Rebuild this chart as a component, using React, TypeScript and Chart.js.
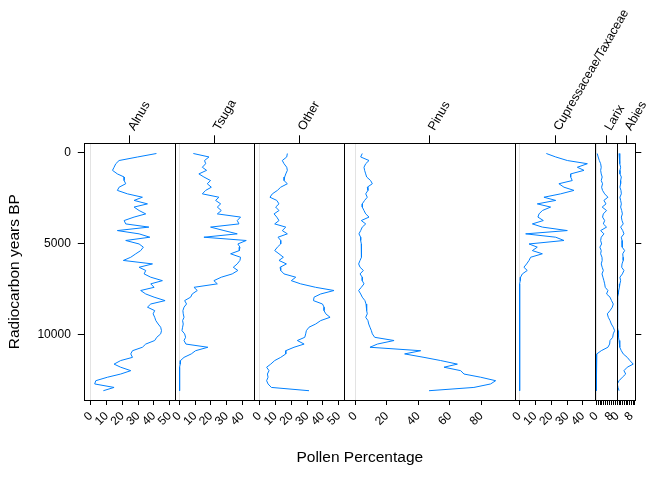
import { useEffect, useRef } from 'react';
import { Chart, registerables } from 'chart.js';

Chart.register(...registerables);

// sample ages (radiocarbon years BP), shared by every taxon
const ages = [
  40, 230, 425, 600, 795, 965, 1160, 1330, 1525, 1700, 1890, 2065, 2255, 2440, 2615, 2805, 2980, 3170,
  3355, 3530, 3720, 3905, 4080, 4270, 4450, 4635, 4815, 5005, 5180, 5370, 5545, 5735, 5910, 6100, 6285,
  6460, 6650, 6830, 7020, 7195, 7385, 7560, 7750, 7925, 8115, 8300, 8475, 8665, 8840, 9030, 9210, 9400,
  9575, 9765, 9940, 10130, 10305, 10500, 10675, 10865, 11040, 11230, 11405, 11600, 11770, 11960, 12145,
  12320, 12510, 12690, 12880, 13060,
];

// pollen percentages per taxon
const alnus = [
  41.7, 29.8, 18.0, 15.9, 14.8, 13.8, 16.9, 21.2, 21.2, 22.2, 18.0, 16.9, 23.3, 32.8, 27.5, 36.0, 27.5, 30.7,
  34.9, 27.5, 21.2, 22.2, 36.9, 16.9, 30.7, 37.5, 22.2, 30.7, 33.4, 31.7, 28.6, 25.4, 20.7, 39.2, 30.7, 34.9,
  33.9, 38.1, 45.5, 38.1, 40.2, 31.7, 34.9, 40.2, 47.2, 38.1, 36.0, 40.6, 39.6, 40.6, 41.3, 42.8, 44.4, 44.9,
  44.4, 41.9, 40.6, 34.9, 32.8, 26.5, 25.4, 26.5, 19.0, 14.8, 19.0, 25.4, 19.0, 10.6, 3.2, 2.5, 14.8, 8.0,
];
const tsuga = [
  8.9, 18.8, 16.0, 16.7, 14.6, 17.3, 12.4, 15.6, 19.8, 17.7, 20.3, 16.7, 14.6, 25.1, 23.0, 26.2, 24.1, 26.6,
  24.1, 38.8, 36.7, 37.8, 19.8, 28.3, 36.7, 15.6, 42.4, 37.1, 38.4, 38.0, 32.5, 38.8, 38.4, 36.7, 34.2, 37.1,
  33.5, 26.6, 21.9, 24.1, 9.3, 11.4, 8.2, 7.2, 3.4, 4.6, 3.0, 2.3, 2.5, 3.0, 2.1, 2.5, 2.1, 1.7,
  3.4, 4.0, 3.0, 4.2, 18.1, 10.3, 7.6, 3.0, 0.8, 0.6, 0.2, 0.2, 0.2, 0.2, 0.2, 0.2, 0.2, 0.2,
];
const other = [
  17.5, 17.1, 14.3, 15.4, 17.1, 17.5, 16.5, 15.8, 15.4, 17.5, 13.3, 11.2, 8.0, 6.5, 10.8, 12.2, 10.1, 12.2,
  9.1, 10.8, 12.2, 9.5, 16.5, 14.3, 17.5, 11.6, 13.3, 13.3, 11.2, 9.5, 12.2, 15.0, 12.2, 16.9, 12.9, 13.3,
  15.4, 22.8, 20.0, 25.9, 35.4, 47.0, 38.6, 34.4, 34.0, 39.7, 40.7, 40.7, 41.8, 44.5, 38.6, 35.4, 31.2, 29.5,
  29.1, 28.5, 23.8, 28.1, 21.7, 16.5, 16.5, 13.3, 9.5, 7.0, 4.4, 5.9, 4.9, 5.3, 4.4, 5.3, 7.4, 31.2,
];
const pinus = [
  4.4, 3.4, 8.7, 6.6, 5.5, 5.9, 6.6, 7.2, 9.7, 10.8, 7.6, 8.0, 6.6, 7.6, 5.9, 4.4, 4.4, 5.5,
  6.6, 8.7, 3.8, 6.6, 4.4, 3.4, 2.3, 3.4, 3.4, 3.8, 4.0, 4.0, 3.8, 3.8, 3.0, 2.1, 3.0, 5.1,
  3.0, 4.4, 4.4, 5.5, 3.8, 2.1, 3.4, 4.4, 6.1, 6.8, 7.2, 7.2, 7.6, 6.6, 8.0, 8.5, 9.3, 10.2,
  10.8, 12.3, 24.6, 14.0, 9.3, 41.5, 31.3, 43.6, 54.2, 64.8, 56.3, 66.9, 69.0, 79.6, 89.1, 85.9, 75.3, 46.8,
];
const cupressaceae = [
  17.0, 22.9, 30.2, 42.8, 36.5, 40.7, 32.3, 32.3, 33.3, 24.9, 28.1, 34.4, 26.0, 15.5, 22.9, 11.3, 19.7, 14.5,
  12.4, 11.7, 15.1, 8.2, 14.5, 30.2, 4.0, 22.9, 28.1, 6.1, 11.3, 8.2, 14.5, 7.1, 6.1, 4.6, 2.9, 5.0,
  1.9, 0.8, 0.6, 0.2, 0.2, 0.3, 0.2, 0.2, 0.2, 0.3, 0.2, 0.2, 0.2, 0.2, 0.2, 0.3, 0.2, 0.2,
  0.2, 0.3, 0.2, 0.2, 0.3, 0.2, 0.2, 0.2, 0.2, 0.2, 0.2, 0.2, 0.2, 0.2, 0.2, 0.2, 0.2, 0.2,
];
const larix = [
  0.5, 1.0, 1.6, 2.3, 2.6, 2.3, 2.6, 3.1, 2.6, 3.3, 2.8, 3.3, 4.4, 6.1, 4.0, 5.1, 3.1, 5.4,
  3.7, 3.3, 4.4, 3.7, 5.4, 2.3, 4.0, 2.6, 2.3, 2.8, 1.9, 2.6, 2.3, 3.0, 3.1, 2.6, 3.1, 3.7,
  3.0, 3.5, 4.0, 4.4, 4.7, 6.1, 5.4, 7.2, 8.0, 8.9, 8.4, 7.2, 5.8, 6.3, 7.2, 7.9, 8.9, 9.6,
  8.9, 8.6, 7.2, 7.0, 6.1, 2.6, 0.3, 0, 0, 0, 0, 0, 0, 0, 0, 0, 0, 0,
];
const abies = [
  1.0, 1.5, 1.5, 1.2, 1.9, 1.5, 1.5, 2.3, 1.9, 1.9, 1.5, 2.1, 2.3, 1.5, 1.9, 2.3, 1.9, 2.5,
  2.9, 2.3, 2.7, 3.4, 1.9, 3.1, 3.8, 2.3, 2.7, 2.9, 2.7, 4.2, 3.1, 3.3, 3.4, 2.7, 2.5, 3.8,
  2.9, 1.5, 1.9, 1.5, 1.2, 0.8, 0.6, 0.2, 0, 0.2, 0, 0.1, 0, 0.2, 0.3, 0.2, 0.3, 0.4,
  0.6, 0.8, 1.0, 1.3, 1.5, 2.3, 3.4, 5.7, 7.2, 9.1, 5.7, 3.8, 4.8, 2.9, 1.0, 0, 0.4, 1.0,
];

// tick values / labels
const ageTicks = [0, 5000, 10000];
const tens50 = [0, 10, 20, 30, 40, 50];
const tens40 = [0, 10, 20, 30, 40];
const pinusTicks = [0, 20, 40, 60, 80];
const unitTicks = [0, 1, 2, 3, 4, 5, 6, 7, 8, 9, 10];
const unitLabels = ['0', '', '', '', '', '', '', '', '8', '', ''];

// one strip per taxon: x range and relative strip width
const panels = [
  { name: 'Alnus', values: alnus, min: -4.1, max: 53.3, ticks: tens50, width: 90.4 },
  { name: 'Tsuga', values: tsuga, min: -2.9, max: 47.5, ticks: tens40, width: 79.6 },
  { name: 'Other', values: other, min: -3.4, max: 53.5, ticks: tens50, width: 90 },
  { name: 'Pinus', values: pinus, min: -7.0, max: 101.2, ticks: pinusTicks, width: 170.4 },
  { name: 'Cupressaceae/Taxaceae', values: cupressaceae, min: -2.9, max: 47.8, ticks: tens40, width: 80.6 },
  { name: 'Larix', values: larix, min: -0.5, max: 10.7, ticks: unitTicks, labels: unitLabels, width: 21.4 },
  { name: 'Abies', values: abies, min: -0.35, max: 10.3, ticks: unitTicks, labels: unitLabels, width: 18.6 },
];

// black separators between strips
const stripBorders = {
  id: 'stripBorders',
  afterDatasetsDraw(chart: any) {
    const { ctx, chartArea } = chart;
    ctx.save();
    ctx.strokeStyle = '#000';
    ctx.lineWidth = 1;
    for (let i = 1; i < panels.length; i++) {
      const x = Math.round(chart.scales['x' + i].left) + 0.5;
      ctx.beginPath();
      ctx.moveTo(x, chartArea.top);
      ctx.lineTo(x, chartArea.bottom);
      ctx.stroke();
    }
    ctx.restore();
  },
};

// rotated labels should not push the plot area around
const noPadding = (s: any) => {
  s.paddingLeft = 0;
  s.paddingRight = 0;
  s.paddingTop = 0;
  s.paddingBottom = 0;
};

export default function App() {
  const canvasRef = useRef<HTMLCanvasElement>(null);
  const chartRef = useRef<Chart | null>(null);

  useEffect(() => {
    if (!canvasRef.current) return;
    if (chartRef.current) chartRef.current.destroy();

    Chart.defaults.font.family = '"Liberation Sans", Arial, sans-serif';
    Chart.defaults.color = '#000';

    const scales: any = {
      y: {
        type: 'linear',
        position: 'left',
        reverse: true,
        min: -520,
        max: 13570,
        afterBuildTicks: (s: any) => {
          s.ticks = ageTicks.map((v) => ({ value: v }));
        },
        afterFit: (s: any) => {
          s.width = 84.3;
        },
        grid: { drawOnChartArea: false, tickLength: 6.5, color: '#000' },
        border: { color: '#000' },
        ticks: { padding: 7, font: { size: 12 }, callback: (v: any) => String(v) },
        title: {
          display: true,
          text: 'Radiocarbon years BP',
          font: { size: 15.5 },
          padding: { top: 5, bottom: 0 },
        },
      },
      yRight: {
        type: 'linear',
        position: 'right',
        reverse: true,
        min: -520,
        max: 13570,
        afterBuildTicks: (s: any) => {
          s.ticks = ageTicks.map((v) => ({ value: v }));
        },
        afterFit: (s: any) => {
          s.width = 36.7;
        },
        grid: { drawOnChartArea: false, tickLength: 6, color: '#000' },
        border: { color: '#000' },
        ticks: { display: false },
      },
    };

    panels.forEach((p, i) => {
      scales['x' + i] = {
        type: 'linear',
        axis: 'x',
        position: 'bottom',
        stack: 'strips',
        stackWeight: p.width,
        min: p.min,
        max: p.max,
        afterBuildTicks: (s: any) => {
          s.ticks = p.ticks.map((v) => ({ value: v }));
        },
        afterFit: (s: any) => {
          s.height = 48.7;
          noPadding(s);
        },
        ticks: {
          minRotation: 45,
          maxRotation: 45,
          autoSkip: false,
          padding: 4,
          font: { size: 12 },
          callback: (v: any, idx: number) => (p.labels ? p.labels[idx] : String(v)),
        },
        grid: {
          drawOnChartArea: true,
          color: (c: any) => (c.tick && c.tick.value === 0 ? '#e3e3e3' : 'rgba(0,0,0,0)'),
          tickColor: '#000',
          tickLength: 5,
        },
        border: { color: '#000' },
      };
    });

    // top strips are laid out in reverse order, so add them last to first
    for (let i = panels.length - 1; i >= 0; i--) {
      const p = panels[i];
      scales['t' + i] = {
        type: 'linear',
        axis: 'x',
        position: 'top',
        stack: 'names',
        stackWeight: p.width,
        min: p.min,
        max: p.max,
        afterBuildTicks: (s: any) => {
          s.ticks = [{ value: (p.min + p.max) / 2 }];
        },
        afterFit: (s: any) => {
          s.height = 143.3;
          noPadding(s);
        },
        ticks: {
          minRotation: 60,
          maxRotation: 60,
          autoSkip: false,
          padding: 2,
          labelOffset: 15,
          font: { size: 12.5 },
          callback: () => p.name,
        },
        grid: { drawOnChartArea: false, tickLength: 8, color: '#000' },
        border: { color: '#000' },
      };
    }

    chartRef.current = new Chart(canvasRef.current, {
      type: 'line',
      data: {
        datasets: panels.map((p, i) => ({
          label: p.name,
          data: ages.map((a, j) => ({ x: p.values[j], y: a })),
          xAxisID: 'x' + i,
          yAxisID: 'y',
          borderColor: '#0080ff',
          borderWidth: 1,
          pointRadius: 0,
          fill: false,
          tension: 0,
        })),
      },
      options: {
        responsive: true,
        maintainAspectRatio: false,
        animation: false,
        layout: { padding: { left: 0, right: 0, top: 0, bottom: 12.7 } },
        plugins: {
          legend: { display: false },
          tooltip: { enabled: false },
          title: {
            display: true,
            position: 'bottom',
            fullSize: false,
            text: 'Pollen Percentage',
            font: { size: 15.5, weight: 'normal' },
            padding: { top: 0, bottom: 0 },
            color: '#000',
          },
        },
        scales,
      },
      plugins: [stripBorders],
    } as any);

    return () => {
      if (chartRef.current) {
        chartRef.current.destroy();
        chartRef.current = null;
      }
    };
  }, []);

  return (
    <div style={{ position: 'absolute', left: 0, top: 0, width: 672, height: 480, background: '#fff' }}>
      <canvas ref={canvasRef} />
    </div>
  );
}
